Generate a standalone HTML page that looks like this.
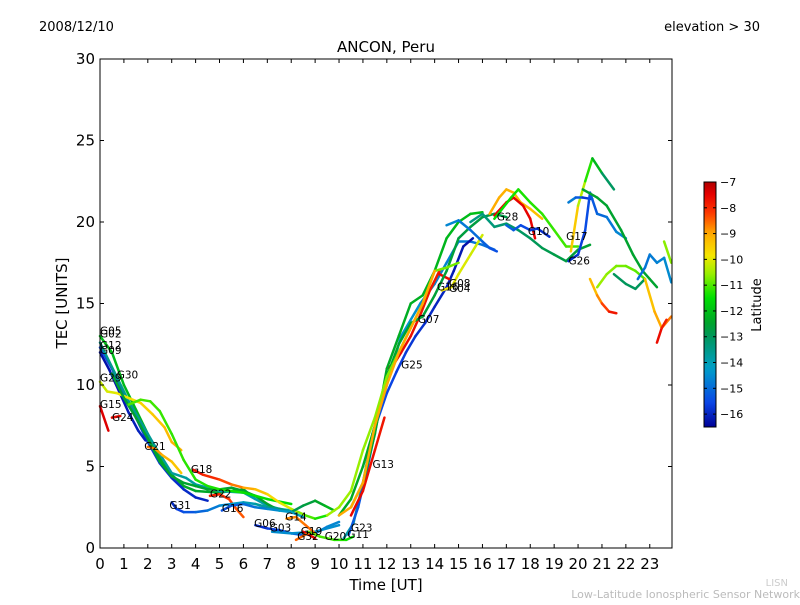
<!DOCTYPE html>
<html><head><meta charset="utf-8"><style>
body{margin:0;background:#fff;}
svg text{font-family:"DejaVu Sans","Liberation Sans",sans-serif;}
</style></head><body>
<svg id="chart" width="800" height="600" viewBox="0 0 800 600">
<rect x="0" y="0" width="800" height="600" fill="#fff"/>
<text x="39" y="31" font-size="13">2008/12/10</text>
<text x="760" y="31" font-size="13" text-anchor="end">elevation &gt; 30</text>
<text x="386" y="52" font-size="15" text-anchor="middle">ANCON, Peru</text>
<text x="386" y="590" font-size="15" text-anchor="middle">Time [UT]</text>
<text x="0" y="0" font-size="15" text-anchor="middle" transform="translate(67,303) rotate(-90)">TEC [UNITS]</text>
<text x="788" y="586" font-size="10" fill="#ccc" text-anchor="end">LISN</text>
<text x="800" y="598" font-size="11" fill="#bbb" text-anchor="end">Low-Latitude Ionospheric Sensor Network</text>
<g id="tracks"></g>
<g id="labels"></g>
<g id="axes"></g>
<g id="cbar"></g>
</svg>
<script>
const xTicks=[0,1,2,3,4,5,6,7,8,9,10,11,12,13,14,15,16,17,18,19,20,21,22,23];
const yTicks=[0,5,10,15,20,25,30];
const cbTicks=[-7,-8,-9,-10,-11,-12,-13,-14,-15,-16];
const xMin=0,xMax=23.93,yMin=0,yMax=30,latMin=-16.5,latMax=-7;
const tracks=[
{t:[0,0.5,1,1.5,2,2.5,3,3.5,4,5,6,6.5],v:[13,12,10,8.5,7,5.5,4.5,3.8,3.5,3.4,3.6,3.0],lat:[-12,-12.5]},
{t:[0,0.5,1,1.5,2,2.5,3,3.5,4,4.5],v:[12.3,11,9.5,8,6.5,5.2,4.3,3.6,3.1,2.9],lat:[-15.5,-16]},
{t:[0,0.4,0.8,1.2,1.6,1.9],v:[12.0,10.9,9.6,8.3,7.2,6.6],lat:[-16.3,-16]},
{t:[0,0.6,1.2,1.8,2.4,3,3.6,4,5,6,7,7.5,8],v:[12.6,10.8,9,7.5,6,4.6,4.3,3.9,3.5,3.4,2.6,2.4,2.3],lat:[-13.5,-14]},
{t:[0,0.3,0.7,1.2,1.7,2.2,2.7,3,3.4],v:[10.2,9.6,9.5,9.2,8.9,8.2,7.4,6.5,6.0],lat:[-10.3,-9]},
{t:[0,0.35],v:[8.7,7.2],lat:[-7.5,-7.3]},
{t:[0.5,0.85],v:[8.0,8.1],lat:[-7.6,-7.6]},
{t:[0.5,1,1.5,2,2.5,3,3.5,4,4.5,5,5.5,6,6.5,7,7.5],v:[10.7,9.2,8,6.7,5.3,4.4,4,3.8,3.6,3.6,3.7,3.5,3.2,2.7,2.3],lat:[-12.5,-12.5]},
{t:[1.2,1.7,2.1,2.5,3,3.5,4,4.5,5,5.5,6,7,8],v:[8.8,9.1,9.0,8.4,7,5.4,4.2,3.8,3.6,3.5,3.4,3.0,2.7],lat:[-11,-11.5]},
{t:[2,2.3,2.6,3,3.4],v:[6.2,6.1,5.7,5.3,4.6],lat:[-8.5,-9.5]},
{t:[3.9,4.3,5,5.5,6,6.5,7,7.5,8,8.3,8.6,9,9.5],v:[4.8,4.5,4.2,3.9,3.7,3.6,3.3,2.8,2.4,2.2,2.0,1.8,2.0],lat:[-7.5,-11.5]},
{t:[4.6,5,5.4,5.7,6],v:[3.2,3.3,3.0,2.4,1.9],lat:[-7.8,-8.5]},
{t:[3,3.2,3.5,4,4.5,5,5.5,6,6.5,7,7.5,8,8.5,9,9.4,9.8],v:[2.8,2.4,2.2,2.2,2.3,2.6,2.7,2.8,2.7,2.5,2.4,2.2,2.6,2.9,2.6,2.3],lat:[-16,-12]},
{t:[5.1,5.5,6,6.5,7,7.5,8,8.5],v:[2.3,2.6,2.7,2.5,2.4,2.3,2.2,1.9],lat:[-15.5,-14]},
{t:[6.5,7,7.5,8,8.5,9,9.5,10],v:[1.4,1.2,1.1,0.9,0.8,0.9,1.3,1.6],lat:[-16,-14.5]},
{t:[7.2,8,9,10],v:[1.0,0.9,1.0,1.4],lat:[-14.5,-14.5]},
{t:[7.8,8.2,8.6,9],v:[1.8,1.9,1.4,0.9],lat:[-8.8,-8.5]},
{t:[8.5,9],v:[1.0,0.6],lat:[-7.5,-7.5]},
{t:[8.2,8.7],v:[0.5,0.9],lat:[-8.5,-8.5]},
{t:[8.7,9.2,9.8,10.3,10.6],v:[1.0,0.7,0.5,0.5,0.7],lat:[-10.8,-11.5]},
{t:[10.2,10.6,11,11.4,11.8,12.2,12.6,13,13.4,14,14.5,15,15.5,16,16.5],v:[0.6,1.5,4,7,9,11,13,14,15,16.2,17.5,18.8,18.8,18.6,18.3],lat:[-13.8,-15]},
{t:[10.4,10.8,11.2,11.6,12,12.4,12.8,13.2,13.6,14,14.5,14.8,15.2,15.6],v:[0.8,2.5,5,7.8,9.5,10.8,12,13,13.8,14.8,16,17,18.5,19],lat:[-15.2,-16.3]},
{t:[10.5,11,11.5,11.9],v:[2,3.5,6,8],lat:[-7.5,-7.8]},
{t:[12,12.3,12.6,13,13.4,13.8,14.2],v:[11.0,11.3,12.0,13.0,14.3,15.8,17],lat:[-7.5,-7.8]},
{t:[14.2,14.6],v:[16.8,16.5],lat:[-7.6,-7.6]},
{t:[10,10.5,11,11.5,12,12.5,13,13.5,14,14.5,15,15.5,16,16.5,17],v:[2,3,5,7.5,10.5,12.5,13.8,14.2,15.5,17,19,19.7,20.3,20.5,20.3],lat:[-12.3,-12.8]},
{t:[10.5,11,11.5,12,12.5,13,13.5,14,14.5,15,15.5,16],v:[2.5,4,7,11,13,15,15.5,17,19,20,20.5,20.6],lat:[-12.5,-12]},
{t:[9.5,10,10.5,11,11.5,12,12.5,13,13.5,14,14.5,15],v:[2,2.5,3.5,6,8,10.5,12,13.5,15,17,17.2,17.5],lat:[-10.5,-10.8]},
{t:[10,10.5,11,11.5,12,12.5,13,13.5,14],v:[2,2.5,4,7.5,10,12,13.5,15,17],lat:[-9,-9]},
{t:[14.3,14.7,15,15.5,16],v:[15.8,16,16.8,18,19.2],lat:[-9.8,-10.2]},
{t:[16.3,16.7,17,17.3,17.6,18,18.5],v:[20.5,21.5,22,21.8,21.2,20.8,20.2],lat:[-9,-9.3]},
{t:[16.5,17,17.3,17.7,18,18.2],v:[20.4,21.2,21.5,21,20.2,19],lat:[-7.5,-7.5]},
{t:[16.5,17.2,17.5,18,18.5,19,19.5,20],v:[20.2,21.5,22,21.2,20.5,19.5,18.5,18.5],lat:[-11.5,-11]},
{t:[15.5,16,16.5,17,17.5,18,18.5,19,19.5,20,20.5],v:[20,20.5,19.7,19.9,19.5,19,18.4,18.0,17.6,18.3,18.6],lat:[-13.5,-12.5]},
{t:[14.5,15,15.5,16,16.3,16.6],v:[19.8,20.1,19.5,18.8,18.4,18.2],lat:[-14.5,-15.5]},
{t:[17,17.3,17.6,18,18.3,18.8],v:[19.8,19.5,19.8,19.5,19.6,19.1],lat:[-15,-16]},
{t:[19.7,20,20.3,20.6,21,21.5],v:[18.2,21,22.5,23.9,23,22],lat:[-9,-13.5]},
{t:[19.6,19.9,20.2,20.6],v:[21.2,21.5,21.5,21.4],lat:[-14.5,-16]},
{t:[19.6,20,20.3,20.5,20.8,21.2,21.6,22],v:[17.6,18.0,19.5,21.8,20.5,20.3,19.4,19],lat:[-16,-14.5]},
{t:[20.5,20.8,21,21.3,21.6],v:[16.5,15.5,15,14.5,14.4],lat:[-9.5,-7.5]},
{t:[20.8,21.2,21.6,22,22.4,22.8],v:[16,16.8,17.3,17.3,17,16.5],lat:[-10.5,-11]},
{t:[20.2,20.8,21.2,21.8,22.3,22.7,23,23.3],v:[22,21.5,21,19.5,18,17,16.5,16],lat:[-12.5,-12.5]},
{t:[21.5,22,22.4,22.8],v:[16.8,16.2,15.9,16.5],lat:[-13,-13]},
{t:[22.5,22.8,23,23.3,23.6,23.9],v:[16.5,17.2,18,17.5,17.8,16.3],lat:[-15,-14.5]},
{t:[22.8,23.2,23.5,23.9],v:[16.5,14.5,13.5,14.2],lat:[-9.5,-8.5]},
{t:[23.3,23.5,23.7],v:[12.6,13.5,14],lat:[-7.5,-8]},
{t:[23.6,23.9],v:[18.8,17.5],lat:[-10.3,-11]}
];
const labelNames=["G05","G02","G12","G09","G29","G30","G15","G24","G21","G18","G31","G22","G16","G06","G03","G14","G19","G32","G20","G11","G23","G13","G25","G07","G16","G08","G04","G28","G10","G17","G26"];
const labelT=[0,0,0,0,0,0.7,0,0.5,1.85,3.8,2.9,4.6,5.1,6.45,7.1,7.75,8.4,8.25,9.4,10.35,10.5,11.4,12.6,13.3,14.1,14.6,14.6,16.6,17.9,19.5,19.6];
const labelV=[13.1,12.9,12.2,11.9,10.2,10.4,8.6,7.8,6.0,4.6,2.4,3.1,2.2,1.3,1.0,1.7,0.8,0.5,0.5,0.6,1.0,4.9,11.0,13.8,15.8,16.0,15.7,20.1,19.2,18.9,17.4];
const X0=100,X1=672,Y0=548,Y1=59;
const xs=t=>X0+(t-xMin)/(xMax-xMin)*(X1-X0);
const ys=v=>Y0-(v-yMin)/(yMax-yMin)*(Y0-Y1);
const CB_TOP=182,CB_BOT=427;
const cs=l=>CB_BOT-(l-latMin)/(latMax-latMin)*(CB_BOT-CB_TOP);
const cmapStops=[[0,[0,0,150]],[0.1,[10,70,230]],[0.24,[0,160,200]],[0.37,[0,150,90]],[0.43,[0,165,40]],[0.53,[0,225,0]],[0.63,[160,240,0]],[0.7,[245,230,0]],[0.79,[255,170,0]],[0.87,[255,60,0]],[0.95,[230,0,0]],[1,[175,0,0]]];
function cmap(f){f=Math.max(0,Math.min(1,f));
 for(let i=1;i<cmapStops.length;i++){const [f1,c1]=cmapStops[i],[f0,c0]=cmapStops[i-1];
  if(f<=f1){const u=(f-f0)/(f1-f0);return 'rgb('+c0.map((c,j)=>Math.round(c+(c1[j]-c)*u)).join(',')+')';}}
 return 'rgb(175,0,0)';}
const latColor=l=>cmap((l-latMin)/(latMax-latMin));
const NS="http://www.w3.org/2000/svg";
function mk(tag,attrs,parent){const e=document.createElementNS(NS,tag);for(const k in attrs)e.setAttribute(k,attrs[k]);parent.appendChild(e);return e;}
const gT=document.getElementById('tracks');
tracks.forEach((tr,i)=>{
 const g=mk('g',{},gT);
 
 
 const n=tr.t.length;
 for(let k=0;k<n-1;k++){
  const f=(k+0.5)/(n-1);
  const lat=tr.lat[0]+(tr.lat[1]-tr.lat[0])*f;
  const ln=mk('line',{x1:xs(tr.t[k]),y1:ys(tr.v[k]),x2:xs(tr.t[k+1]),y2:ys(tr.v[k+1]),stroke:latColor(lat),'stroke-width':2.5,'stroke-linecap':'round'},g);
  
  
 }
});
const gL=document.getElementById('labels');
labelNames.forEach((nm,i)=>{
 const tx=mk('text',{x:xs(labelT[i]),y:ys(labelV[i]),'font-size':10.5,fill:'#000'},gL);
 tx.textContent=nm;
 
 
});
const gA=document.getElementById('axes');
const fr=mk('rect',{x:X0,y:Y1,width:X1-X0,height:Y0-Y1,fill:'none',stroke:'#000','stroke-width':1},gA);


xTicks.forEach(t=>{const x=xs(t);
 mk('line',{x1:x,y1:Y0,x2:x,y2:Y0-4,stroke:'#000'},gA);
 mk('line',{x1:x,y1:Y1,x2:x,y2:Y1+4,stroke:'#000'},gA);
 const tx=mk('text',{x:x,y:Y0+21,'font-size':15,'text-anchor':'middle'},gA);tx.textContent=t;
 
 
});
yTicks.forEach(v=>{const y=ys(v);
 mk('line',{x1:X0,y1:y,x2:X0+4,y2:y,stroke:'#000'},gA);
 mk('line',{x1:X1,y1:y,x2:X1-4,y2:y,stroke:'#000'},gA);
 const tx=mk('text',{x:X0-5,y:y+5,'font-size':15,'text-anchor':'end'},gA);tx.textContent=v;
 
 
});
const gC=document.getElementById('cbar');
const defs=mk('defs',{},gC);
const grad=mk('linearGradient',{id:'cmapg',x1:0,y1:1,x2:0,y2:0},defs);
for(let i=0;i<=40;i++){mk('stop',{offset:i/40,'stop-color':cmap(i/40)},grad);}
const cb=mk('rect',{x:704,y:CB_TOP,width:12,height:CB_BOT-CB_TOP,fill:'url(#cmapg)',stroke:'#000','stroke-width':1},gC);


cbTicks.forEach(l=>{const y=cs(l);
 mk('line',{x1:704,y1:y,x2:707,y2:y,stroke:'#000'},gC);
 mk('line',{x1:716,y1:y,x2:713,y2:y,stroke:'#000'},gC);
 const tx=mk('text',{x:720,y:y+4,'font-size':11},gC);tx.textContent='\u2212'+Math.abs(l);
 
 
});
const ct=mk('text',{transform:'translate(761,305) rotate(-90)','font-size':13,'text-anchor':'middle'},gC);ct.textContent='Latitude';


</script>
</body></html>
